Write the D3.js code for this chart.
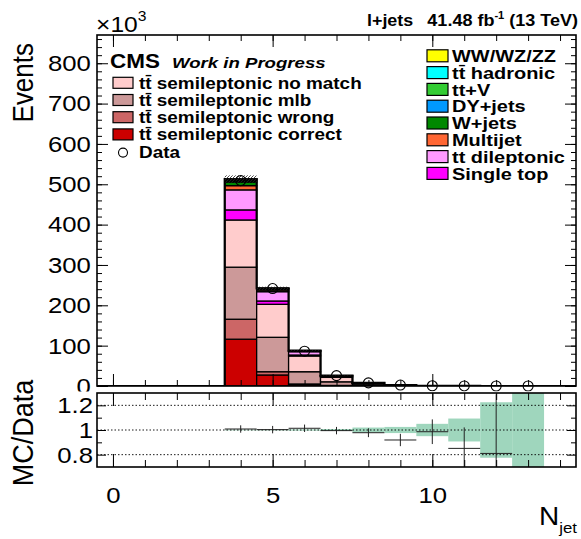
<!DOCTYPE html>
<meta charset="utf-8">
<style>
body { margin: 0; background: #fff; }
svg { font-family: "Liberation Sans", Arial, Helvetica, sans-serif; }
</style>
<svg id="thevis" width="581" height="539"></svg>
<script src="https://cdn.jsdelivr.net/npm/d3@7"></script>
<script>

// N_jet bins that carry events (k events)
var nJet = [4, 5, 6, 7, 8, 9, 10, 11, 12, 13];

// stack components, bottom to top (x10^3 events)
var ttCorrect  = [116, 27.3, 3.6, 1.0, 0.3, 0.08, 0.02, 0.005, 0.001, 0.0003];
var ttWrong    = [49.5, 8.1, 1.4, 0.4, 0.1, 0.03, 0.01, 0.002, 0.0005, 0.0001];
var ttMlb      = [129, 85.3, 30.4, 9.0, 2.6, 0.7, 0.18, 0.045, 0.01, 0.003];
var ttNoMatch  = [117, 81.8, 39.0, 11.0, 3.4, 0.95, 0.25, 0.06, 0.015, 0.004];
var singleTop  = [25, 8.2, 2.4, 1.0, 0.3, 0.08, 0.02, 0.005, 0.001, 0.0003];
var ttDilep    = [49.6, 23.1, 8.2, 2.0, 0.6, 0.16, 0.04, 0.01, 0.002, 0.0005];
var multijet   = [10.5, 4.0, 1.2, 0.4, 0.1, 0.03, 0.01, 0.002, 0.0005, 0];
var wJets      = [9.0, 2.5, 0.7, 0.4, 0.1, 0.03, 0.01, 0.002, 0.0005, 0];
var dyJets     = [3.0, 0.8, 0.2, 0.1, 0.03, 0.01, 0, 0, 0, 0];
var ttV        = [3.0, 0.7, 0.3, 0.2, 0.08, 0.03, 0.01, 0.002, 0.0005, 0.0001];
var ttHad      = [1.0, 0.3, 0.08, 0.1, 0.03, 0.01, 0, 0, 0, 0];
var diboson    = [0.5, 0.1, 0.02, 0.05, 0.01, 0, 0, 0, 0, 0];
var mcErr      = [9, 4, 1.5, 0.6, 0.2, 0.08, 0.03, 0.01, 0.005, 0.002];

var data       = [509, 241.5, 86.3, 25.8, 7.8, 2.3, 0.56, 0.156, 0.037, 0];

// ratio panel (bins 4..12 have a point, 4..13 have a band)
var ratioVal = [1.008, 1.003, 1.014, 0.995, 0.978, 0.919, 0.986, 0.851, 0.81];
var ratioErr = [0.03, 0.03, 0.03, 0.03, 0.036, 0.05, 0.1, 0.17, 0.48];
var bandHalf = [0.003, 0.003, 0.005, 0.008, 0.02, 0.025, 0.05, 0.093, 0.225, 0.6];

var yTicks = [0, 100, 200, 300, 400, 500, 600, 700, 800];
var rTicks = [0.8, 1, 1.2];
var xTicks = [0, 5, 10];

var procs = [
	{key: "correct", vals: ttCorrect, color: "#cc0000", label: "tt\u0304 semileptonic correct"},
	{key: "wrong",   vals: ttWrong,   color: "#cc6666", label: "tt\u0304 semileptonic wrong"},
	{key: "mlb",     vals: ttMlb,     color: "#cc9999", label: "tt\u0304 semileptonic mlb"},
	{key: "nomatch", vals: ttNoMatch, color: "#ffcccc", label: "tt\u0304 semileptonic no match"},
	{key: "st",      vals: singleTop, color: "#ff00ff", label: "Single top"},
	{key: "dilep",   vals: ttDilep,   color: "#ff99ff", label: "tt dileptonic"},
	{key: "mj",      vals: multijet,  color: "#ff6633", label: "Multijet"},
	{key: "wj",      vals: wJets,     color: "#008800", label: "W+jets"},
	{key: "dy",      vals: dyJets,    color: "#0099ff", label: "DY+jets"},
	{key: "ttv",     vals: ttV,       color: "#33cc33", label: "tt+V"},
	{key: "had",     vals: ttHad,     color: "#00ffff", label: "tt\u0304 hadronic"},
	{key: "vv",      vals: diboson,   color: "#ffff00", label: "WW/WZ/ZZ"}
];

var SX = 1.12; // picture text is a bit wide

var svg = d3.select("svg"),
	X0 = 97, X1 = 576,
	T0 = 35, B0 = 386,   // upper pad frame
	T1 = 393, B1 = 467;  // ratio pad frame

var x = d3.scaleLinear().domain([-0.5, 14.5]).range([X0, X1]);
var y = d3.scaleLinear().domain([0, 870]).range([B0, T0]);
var yr = d3.scaleLinear().domain([0.7, 1.3]).range([B1, T1]);

var defs = svg.append("defs");
defs.append("clipPath").attr("id", "clipTop").append("rect")
	.attr("x", X0).attr("y", T0).attr("width", X1 - X0).attr("height", B0 - T0);
defs.append("clipPath").attr("id", "clipBot").append("rect")
	.attr("x", X0).attr("y", T1).attr("width", X1 - X0).attr("height", B1 - T1);
var pat = defs.append("pattern").attr("id", "hatch")
	.attr("patternUnits", "userSpaceOnUse").attr("width", 3).attr("height", 3);
pat.append("path").attr("d", "M-1,1 l2,-2 M0,3 l3,-3 M2,4 l2,-2")
	.attr("stroke", "#222").attr("stroke-width", 0.8);

function txt(parent, px, py, s, o) {
	var g = parent.append("g")
		.attr("transform", "translate(" + px + "," + py + ") scale(" + (o.sx || SX) + ",1)" + (o.rot ? " rotate(" + o.rot + ")" : ""));
	return g.append("text")
		.attr("font-size", o.size)
		.attr("font-weight", o.bold ? "bold" : null)
		.attr("font-style", o.italic ? "italic" : null)
		.attr("text-anchor", o.anchor || "start")
		.text(s);
}

function ticks(axis, tx, ty) {
	var g = svg.append("g").attr("transform", "translate(" + tx + "," + ty + ")").call(axis);
	g.select(".domain").remove();
	g.selectAll("line").attr("stroke", "#000").attr("stroke-width", 1);
	return g;
}

function labels(axis, tx, ty) {
	var g = svg.append("g").attr("transform", "translate(" + tx + "," + ty + ")").call(axis);
	g.select(".domain").remove();
	g.selectAll("line").remove();
	g.selectAll("text")
		.attr("font-family", "Liberation Sans, Arial, sans-serif")
		.attr("font-size", 23)
		.attr("fill", "#000")
		.attr("transform", "scale(" + SX + ",1)");
	return g;
}

var intTicks = d3.range(0, 15);

// ================= upper pad =================
var rows = nJet.map(function(n, i) {
	var r = {n: n};
	procs.forEach(function(p) { r[p.key] = p.vals[i]; });
	return r;
});
var stacked = d3.stack().keys(procs.map(function(p) { return p.key; }))(rows);
var color = d3.scaleOrdinal().domain(procs.map(function(p) { return p.key; })).range(procs.map(function(p) { return p.color; }));

var upper = svg.append("g").attr("clip-path", "url(#clipTop)");

upper.selectAll("g.layer")
	.data(stacked)
	.enter().append("g")
		.attr("class", "layer")
		.attr("fill", function(d) { return color(d.key); })
	.selectAll("rect")
	.data(function(d) { return d; })
	.enter().append("rect")
		.attr("x", function(d) { return x(d.data.n - 0.5); })
		.attr("width", function(d) { return x(d.data.n + 0.5) - x(d.data.n - 0.5); })
		.attr("y", function(d) { return y(d[1]); })
		.attr("height", function(d) { return y(d[0]) - y(d[1]); })
		.attr("stroke", "#000")
		.attr("stroke-width", 1.3);

var totals = rows.map(function(r) { return d3.sum(procs, function(p) { return r[p.key]; }); });

// outline of the full histogram range (empty bins sit on zero)
var outlinePts = d3.range(0, 15).map(function(b) {
	var i = nJet.indexOf(b);
	return [b - 0.5, i < 0 ? 0 : totals[i]];
});
outlinePts.push([14.5, 0]);
upper.append("path")
	.attr("d", d3.line().x(function(d) { return x(d[0]); }).y(function(d) { return y(d[1]); }).curve(d3.curveStepAfter)(outlinePts))
	.attr("fill", "none").attr("stroke", "#000").attr("stroke-width", 2.2);

// hatched uncertainty on stack top
upper.selectAll("rect.unc")
	.data(nJet)
	.enter().append("rect")
		.attr("class", "unc")
		.attr("x", function(n) { return x(n - 0.5); })
		.attr("width", function(n) { return x(n + 0.5) - x(n - 0.5); })
		.attr("y", function(n, i) { return y(totals[i] + mcErr[i]); })
		.attr("height", function(n, i) { return y(totals[i] - mcErr[i]) - y(totals[i] + mcErr[i]); })
		.attr("fill", "url(#hatch)");

// data points
svg.append("g").selectAll("circle")
	.data(nJet)
	.enter().append("circle")
		.attr("cx", function(n) { return x(n); })
		.attr("cy", function(n, i) { return y(data[i]); })
		.attr("r", 5)
		.attr("fill", "none")
		.attr("stroke", "#000")
		.attr("stroke-width", 1.1);

ticks(d3.axisRight(y).tickValues(yTicks).tickSize(11).tickFormat(""), X0, 0);
ticks(d3.axisRight(y).tickValues(d3.range(0, 870, 20)).tickSize(5).tickFormat(""), X0, 0);
ticks(d3.axisLeft(y).tickValues(yTicks).tickSize(11).tickFormat(""), X1, 0);
ticks(d3.axisLeft(y).tickValues(d3.range(0, 870, 20)).tickSize(5).tickFormat(""), X1, 0);
ticks(d3.axisTop(x).tickValues(xTicks).tickSize(12).tickFormat(""), 0, B0);
ticks(d3.axisTop(x).tickValues(intTicks).tickSize(6).tickFormat(""), 0, B0);
ticks(d3.axisBottom(x).tickValues(xTicks).tickSize(12).tickFormat(""), 0, T0);
ticks(d3.axisBottom(x).tickValues(intTicks).tickSize(6).tickFormat(""), 0, T0);

svg.append("rect").attr("x", X0).attr("y", T0).attr("width", X1 - X0).attr("height", B0 - T0)
	.attr("fill", "none").attr("stroke", "#000").attr("stroke-width", 1.6);

labels(d3.axisLeft(y).tickValues(yTicks).tickSize(0).tickPadding(5.5).tickFormat(d3.format("d")), X0, 0);

txt(svg, 33, 43, "Events", {size: 26, anchor: "end", rot: -90});
var pw = txt(svg, 96, 32, "\u00d710", {size: 22});
pw.append("tspan").attr("font-size", 14).attr("dy", -11).text("3");

// header
txt(svg, 367, 26, "l+jets", {size: 17, bold: true, sx: 1.05});
var lumi = txt(svg, 578, 26, "41.48 fb", {size: 17, bold: true, anchor: "end", sx: 1.06});
lumi.append("tspan").attr("font-size", 10.5).attr("dy", -7).text("-1");
lumi.append("tspan").attr("dy", 7).text(" (13 TeV)");

txt(svg, 110, 68, "CMS", {size: 21, bold: true, sx: 1.07});
txt(svg, 172, 68, "Work in Progress", {size: 15.5, bold: true, italic: true, sx: 1.2});

// legends
var leftLeg = ["nomatch", "mlb", "wrong", "correct"];
leftLeg.forEach(function(k, i) {
	var p = procs.filter(function(q) { return q.key === k; })[0];
	var cy = 82.8 + i * 17.2;
	svg.append("rect").attr("x", 113).attr("y", cy - 5.5).attr("width", 20).attr("height", 11)
		.attr("fill", p.color).attr("stroke", "#000").attr("stroke-width", 1.2);
	txt(svg, 139, cy + 6, p.label, {size: 16.6, bold: true, sx: 1.14});
});
svg.append("circle").attr("cx", 123).attr("cy", 82.8 + 4 * 17.2 + 1).attr("r", 4.5)
	.attr("fill", "none").attr("stroke", "#000").attr("stroke-width", 1.1);
txt(svg, 139, 82.8 + 4 * 17.2 + 6, "Data", {size: 16.6, bold: true, sx: 1.14});

var rightLeg = ["vv", "had", "ttv", "dy", "wj", "mj", "dilep", "st"];
rightLeg.forEach(function(k, i) {
	var p = procs.filter(function(q) { return q.key === k; })[0];
	var cy = 55.8 + i * 16.8;
	svg.append("rect").attr("x", 427).attr("y", cy - 6).attr("width", 21).attr("height", 12)
		.attr("fill", p.color).attr("stroke", "#000").attr("stroke-width", 1.2);
	txt(svg, 452, cy + 6.2, p.label, {size: 17.2, bold: true, sx: 1.16});
});

// ================= ratio pad =================
// the lower pad sits over the bottom of the upper pad's labels
svg.append("rect").attr("x", 0).attr("y", 391.5).attr("width", 581).attr("height", 539 - 391.5)
	.attr("fill", "#fff");

var lower = svg.append("g").attr("clip-path", "url(#clipBot)");

lower.selectAll("rect.band")
	.data(nJet)
	.enter().append("rect")
		.attr("class", "band")
		.attr("x", function(n) { return x(n - 0.5); })
		.attr("width", function(n) { return x(n + 0.5) - x(n - 0.5); })
		.attr("y", function(n, i) { return yr(1 + bandHalf[i]); })
		.attr("height", function(n, i) { return yr(1 - bandHalf[i]) - yr(1 + bandHalf[i]); })
		.attr("fill", "#9fd6bd");

lower.selectAll("line.grid")
	.data(rTicks)
	.enter().append("line")
		.attr("x1", X0).attr("x2", X1)
		.attr("y1", function(d) { return yr(d); })
		.attr("y2", function(d) { return yr(d); })
		.attr("stroke", "#000").attr("stroke-width", 0.9)
		.attr("stroke-dasharray", "1.5,2");

var pts = lower.selectAll("g.pt")
	.data(ratioVal)
	.enter().append("g").attr("class", "pt");
pts.append("line")
	.attr("x1", function(r, i) { return x(nJet[i] - 0.5); })
	.attr("x2", function(r, i) { return x(nJet[i] + 0.5); })
	.attr("y1", function(r) { return yr(r); })
	.attr("y2", function(r) { return yr(r); })
	.attr("stroke", "#222").attr("stroke-width", 1);
pts.append("line")
	.attr("x1", function(r, i) { return x(nJet[i]); })
	.attr("x2", function(r, i) { return x(nJet[i]); })
	.attr("y1", function(r, i) { return yr(r - ratioErr[i]); })
	.attr("y2", function(r, i) { return yr(r + ratioErr[i]); })
	.attr("stroke", "#222").attr("stroke-width", 1);

ticks(d3.axisRight(yr).tickValues(rTicks).tickSize(9).tickFormat(""), X0, 0);
ticks(d3.axisRight(yr).tickValues([0.9, 1.1]).tickSize(5).tickFormat(""), X0, 0);
ticks(d3.axisLeft(yr).tickValues(rTicks).tickSize(9).tickFormat(""), X1, 0);
ticks(d3.axisLeft(yr).tickValues([0.9, 1.1]).tickSize(5).tickFormat(""), X1, 0);
ticks(d3.axisTop(x).tickValues(xTicks).tickSize(13).tickFormat(""), 0, B1);
ticks(d3.axisTop(x).tickValues(intTicks).tickSize(7).tickFormat(""), 0, B1);
ticks(d3.axisBottom(x).tickValues(xTicks).tickSize(13).tickFormat(""), 0, T1);
ticks(d3.axisBottom(x).tickValues(intTicks).tickSize(7).tickFormat(""), 0, T1);

svg.append("rect").attr("x", X0).attr("y", T1).attr("width", X1 - X0).attr("height", B1 - T1)
	.attr("fill", "none").attr("stroke", "#000").attr("stroke-width", 1.6);

labels(d3.axisLeft(yr).tickValues(rTicks).tickSize(0).tickPadding(3.5).tickFormat(d3.format("")), X0, 0);
labels(d3.axisBottom(x).tickValues(xTicks).tickSize(0).tickPadding(20).tickFormat(d3.format("d")), 0, B1);

txt(svg, 33, 433, "MC/Data", {size: 27, anchor: "middle", rot: -90});
var nj = txt(svg, 577, 525, "N", {size: 25, anchor: "end"});
nj.append("tspan").attr("font-size", 15).attr("dy", 8).text("jet");

</script>
